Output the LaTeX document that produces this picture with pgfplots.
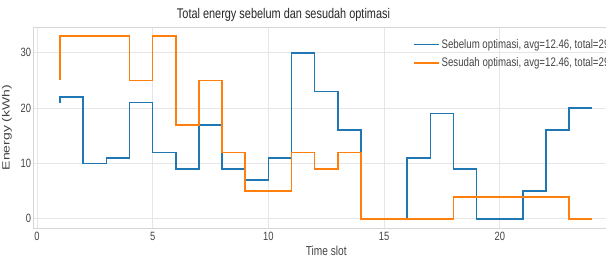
\documentclass[border=0pt]{standalone}
\usepackage{pgfplots}
\pgfplotsset{compat=1.18}
\usepackage{fontspec}
\setmainfont{Liberation Sans}[FakeStretch=0.78]
\newfontfamily\plainsans{Liberation Sans}
\definecolor{mblue}{HTML}{1F77B4}
\definecolor{morange}{HTML}{FF7F0E}
\definecolor{gridc}{HTML}{E6E6E6}
\definecolor{framec}{HTML}{D6D6D6}
\definecolor{txt}{HTML}{444444}
\begin{document}
\begin{tikzpicture}
\begin{axis}[
  scale only axis,
  width=585.5pt, height=201pt,
  at={(33.5pt,30pt)}, anchor=south west,
  xmin=-0.15, xmax=25.15, ymin=-1.65, ymax=34.65,
  xtick={0,5,10,15,20}, ytick={0,10,20,30},
  major tick length=0pt,
  grid=major,
  major grid style={draw=gridc, line width=0.8pt},
  axis line style={draw=framec, line width=0.8pt},
  /pgf/number format/assume math mode=true,
  tick label style={font=\fontsize{12}{13}\selectfont, text=txt},
  xticklabel style={yshift=-1pt},
  yticklabel style={xshift=1pt},
  xlabel={Time slot},
  ylabel={\scalebox{1}[0.75]{Energy (kWh)}},
  xlabel style={font=\fontsize{13}{14}\selectfont, text=txt, at={(axis description cs:0.5,0)}, anchor=north, yshift=-14.5pt},
  ylabel style={font=\plainsans\fontsize{14}{15}\selectfont, text=txt, at={(axis description cs:0,0.5)}, anchor=center, yshift=26.5pt},
  legend style={at={(axis description cs:1,1)}, anchor=north east, xshift=-2pt, yshift=-10pt,
    draw=none, fill=none, font=\fontsize{12.4}{13}\selectfont, text=txt,
    row sep=4pt, inner sep=0pt},
  legend cell align=left,
  legend image code/.code={\draw[#1] (0pt,0pt) -- (25pt,0pt);},
]
\addplot[const plot mark right, draw=mblue, line width=1.6pt] coordinates {
(1,21) (2,22) (3,10) (4,11) (5,21) (6,12) (7,9) (8,17) (9,9) (10,7) (11,11) (12,30)
(13,23) (14,16) (15,0) (16,0) (17,11) (18,19) (19,9) (20,0) (21,0) (22,5) (23,16) (24,20)};
\addlegendentry{Sebelum optimasi, avg=12.46, total=299}
\addplot[const plot mark right, draw=morange, line width=1.6pt] coordinates {
(1,25) (2,33) (3,33) (4,33) (5,25) (6,33) (7,17) (8,25) (9,12) (10,5) (11,5) (12,12)
(13,9) (14,12) (15,0) (16,0) (17,0) (18,0) (19,4) (20,4) (21,4) (22,4) (23,4) (24,0)};
\addlegendentry{Sesudah optimasi, avg=12.46, total=299}
\end{axis}
\node[font=\fontsize{14}{15}\selectfont, text=black!85] at (283.5pt,243pt) {Total energy sebelum dan sesudah optimasi};
\pgfresetboundingbox
\path[use as bounding box] (0,0) rectangle (606pt,258pt);
\end{tikzpicture}
\end{document}
